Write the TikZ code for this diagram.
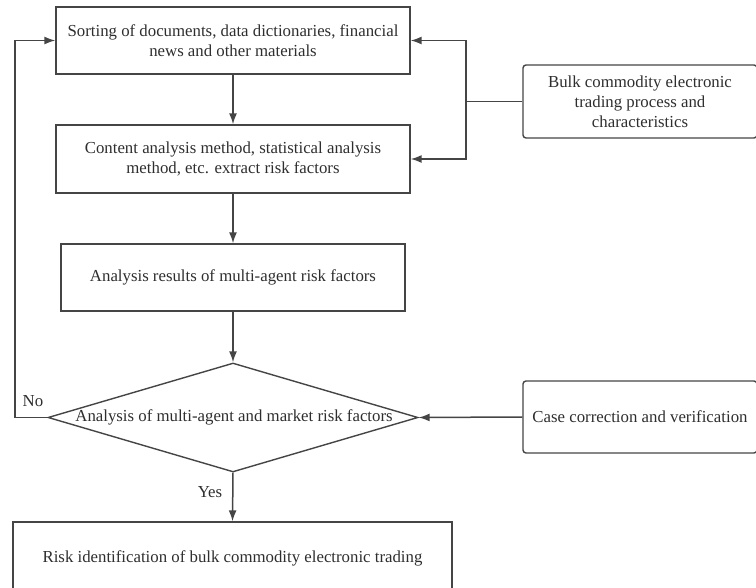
\documentclass[tikz,border=0pt]{standalone}
\usepackage{fontspec}
\setmainfont{Liberation Serif}
\usetikzlibrary{arrows.meta,shapes.geometric}
\definecolor{ln}{HTML}{454545}
\definecolor{tx}{HTML}{2E2E2E}
\begin{document}
\begin{tikzpicture}[x=1pt,y=-1pt,
  every node/.style={text=tx,font=\fontsize{16.8}{20}\selectfont},
  box/.style={draw=ln,line width=1.4pt,rectangle,align=center,inner sep=0pt},
  rbox/.style={box,rounded corners=3pt},
  dec/.style={draw=ln,line width=1.4pt,diamond,aspect=3.4,inner sep=0pt},
  link/.style={draw=ln,line width=1.5pt},
  arr/.style={link,-{Latex[length=11pt,width=8pt]}},
  lbl/.style={inner sep=0pt}]
\useasboundingbox (0,0) rectangle (756,588);
\node[box,minimum width=354pt,minimum height=67pt] (b1) at (233,40.5)
  {Sorting of documents, data dictionaries, financial\\news and other materials};
\node[box,minimum width=354pt,minimum height=68pt] (b2) at (233,159)
  {Content analysis method, statistical analysis\\method, etc. extract risk factors};
\node[box,minimum width=344pt,minimum height=67pt] (b3) at (233,277.5)
  {Analysis results of multi-agent risk factors};
\node[dec,minimum width=370pt,minimum height=109pt] (d) at (233,417.5) {};
\node[lbl] (dt) at (234,417) {Analysis of multi-agent and market risk factors};
\node[box,minimum width=439pt,minimum height=72pt] (b4) at (232.5,558)
  {Risk identification of bulk commodity electronic trading};
\node[rbox,minimum width=234pt,minimum height=73pt] (r1) at (640,101.5)
  {Bulk commodity electronic\\trading process and\\characteristics};
\node[rbox,minimum width=234pt,minimum height=72pt] (r2) at (640,417)
  {Case correction and verification};
\coordinate (fb) at (15,417.5);
\coordinate (jn) at (466,101.5);
\node[lbl] (no) at (33,401) {No};
\node[lbl] (yes) at (210,492) {Yes};
\draw[arr] (b1) -- (b2);
\draw[arr] (b2) -- (b3);
\draw[arr] (b3) -- (d.north);
\draw[arr] (d.south) -- (b4.north);
\draw[arr] (d.west) -- (fb) |- (b1.west);
\draw[link] (r1.west) -- (jn);
\draw[arr] (jn) |- (b1.east);
\draw[arr] (jn) |- (b2.east);
\draw[arr] (r2.west) -- (d.east);
\end{tikzpicture}
\end{document}
